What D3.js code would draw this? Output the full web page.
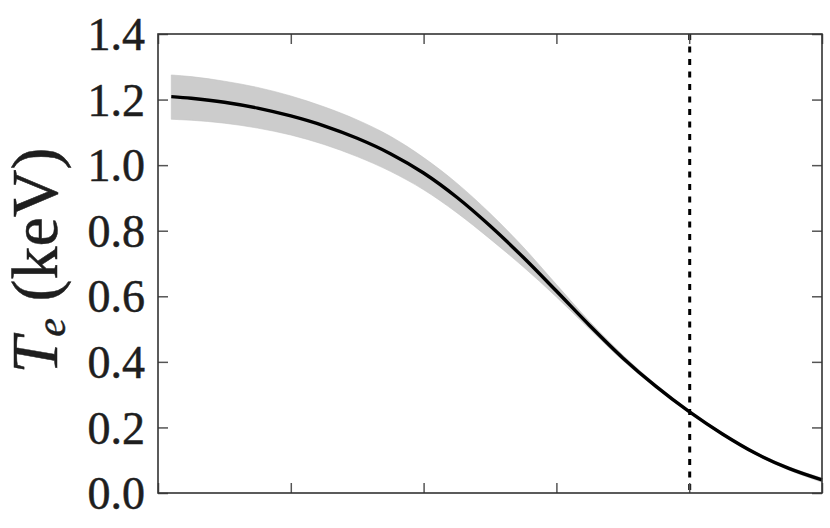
<!DOCTYPE html>
<html>
<head>
<meta charset="utf-8">
<script src="https://cdn.jsdelivr.net/npm/d3@7"></script>
<style>
  html, body { margin: 0; padding: 0; background: #fff; }
  svg { display: block; }
</style>
</head>
<body>
<svg id="chart" width="830" height="528"></svg>
<script>
// ---- data ----
const rho    = [0.02, 0.05, 0.10, 0.15, 0.20, 0.25, 0.30, 0.35, 0.40, 0.45, 0.50, 0.55, 0.60, 0.65, 0.70, 0.75, 0.80, 0.85, 0.90, 0.95, 1.00];
const te     = [1.209, 1.204, 1.192, 1.174, 1.150, 1.120, 1.082, 1.035, 0.976, 0.902, 0.815, 0.719, 0.616, 0.511, 0.412, 0.325, 0.248, 0.180, 0.121, 0.075, 0.040];
const teLow  = [1.140, 1.137, 1.128, 1.113, 1.092, 1.063, 1.026, 0.981, 0.925, 0.855, 0.775, 0.690, 0.598, 0.500, 0.404, 0.320, 0.244, 0.176, 0.117, 0.070, 0.033];
const teHigh = [1.275, 1.270, 1.256, 1.237, 1.211, 1.178, 1.138, 1.088, 1.023, 0.945, 0.853, 0.750, 0.636, 0.523, 0.421, 0.331, 0.252, 0.184, 0.125, 0.080, 0.046];
const xTicks = [0, 0.2, 0.4, 0.6, 0.8, 1.0];
const yTicks = [0.0, 0.2, 0.4, 0.6, 0.8, 1.0, 1.2, 1.4];
const pedestalRho = [0.8];

// ---- layout ----
const svg = d3.select("#chart");
const pL = 158, pR = 822, pT = 34, pB = 493;
const x = d3.scaleLinear().domain([0, 1]).range([pL, pR]);
const y = d3.scaleLinear().domain([0, 1.4]).range([pB, pT]);
const serif = "'Liberation Serif', 'Times New Roman', Times, serif";

const pts = rho.map((r, i) => ({ r, v: te[i], lo: teLow[i], hi: teHigh[i] }));

// band
svg.append("path")
  .datum(pts)
  .attr("fill", "#cccccc")
  .attr("stroke", "#c2c2c2")
  .attr("stroke-width", 0.6)
  .attr("d", d3.area().x(d => x(d.r)).y0(d => y(d.lo)).y1(d => y(d.hi)).curve(d3.curveMonotoneX));

// main line
svg.append("path")
  .datum(pts)
  .attr("fill", "none")
  .attr("stroke", "#000")
  .attr("stroke-width", 3.4)
  .attr("d", d3.line().x(d => x(d.r)).y(d => y(d.v)).curve(d3.curveMonotoneX));

// dashed vertical line
svg.selectAll("line.ped")
  .data(pedestalRho)
  .enter().append("line")
  .attr("class", "ped")
  .attr("x1", d => x(d) + 0.5).attr("x2", d => x(d) + 0.5)
  .attr("y1", pT).attr("y2", pB)
  .attr("stroke", "#000")
  .attr("stroke-width", 3)
  .attr("stroke-dasharray", "6,6.5");

// axes with inward ticks
const tickLen = 10;
const tickColor = "#555";
const axB = d3.axisBottom(x).tickValues(xTicks).tickSize(-tickLen).tickFormat("");
const axT = d3.axisTop(x).tickValues(xTicks).tickSize(-tickLen).tickFormat("");
const axL = d3.axisLeft(y).tickValues(yTicks).tickSize(-tickLen).tickPadding(13).tickFormat(d3.format(".1f"));
const axR = d3.axisRight(y).tickValues(yTicks).tickSize(-tickLen).tickFormat("");

function style(g) {
  g.select(".domain").remove();
  g.selectAll(".tick line").attr("stroke", tickColor).attr("stroke-width", 1.5);
}
svg.append("g").attr("transform", `translate(0,${pB})`).call(axB).call(style);
svg.append("g").attr("transform", `translate(0,${pT})`).call(axT).call(style);
svg.append("g").attr("transform", `translate(${pR},0)`).call(axR).call(style);
const gL = svg.append("g").attr("transform", `translate(${pL},0)`).call(axL).call(style);
gL.selectAll(".tick text")
  .attr("font-family", serif)
  .attr("font-size", 46)
  .attr("fill", "#1e1e1e")
  .attr("stroke", "#1e1e1e")
  .attr("stroke-width", 0.5)
  .attr("dy", "0.34em");

// frame
svg.append("rect")
  .attr("x", pL).attr("y", pT)
  .attr("width", pR - pL).attr("height", pB - pT)
  .attr("fill", "none")
  .attr("stroke", "#333")
  .attr("stroke-width", 1.6);

// y label
const lbl = svg.append("text")
  .attr("transform", `translate(57,${(pT + pB) / 2 - 3}) rotate(-90)`)
  .attr("text-anchor", "middle")
  .attr("font-family", serif)
  .attr("font-size", 66)
  .attr("fill", "#1e1e1e")
  .attr("stroke", "#1e1e1e")
  .attr("stroke-width", 0.5);
lbl.append("tspan").attr("font-style", "italic").text("T");
lbl.append("tspan").attr("font-style", "italic").attr("font-size", 42).attr("dy", 8).text("e");
lbl.append("tspan").attr("dy", -8).text(" (keV)");
</script>
</body>
</html>
